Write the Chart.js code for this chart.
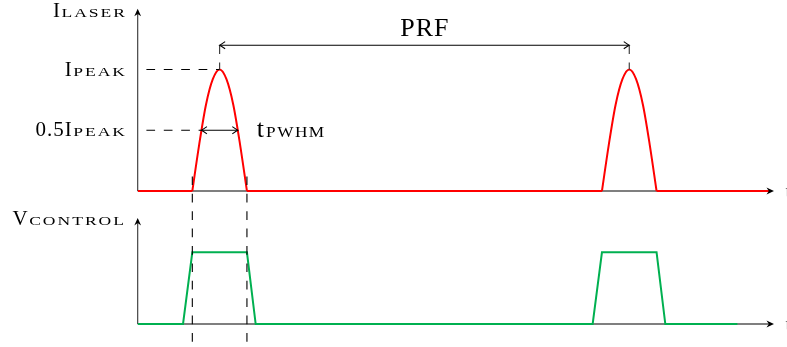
<!DOCTYPE html>
<html>
<head>
<meta charset="utf-8">
<script src="https://cdn.jsdelivr.net/npm/chart.js@4.4.1/dist/chart.umd.min.js"></script>
<style>
  html, body { margin: 0; padding: 0; background: #fff; }
  canvas { display: block; }
</style>
</head>
<body>
<canvas id="pulse" width="787" height="347"></canvas>
<script>
// time in pulse widths, amplitudes normalised to 1
const timeMax = 11.65;

// laser current: the two pulses (same shape)
const pulse1X = [1, 1.125, 1.25, 1.375, 1.5, 1.625, 1.75, 1.875, 2];
const pulse2X = [8.5, 8.625, 8.75, 8.875, 9, 9.125, 9.25, 9.375, 9.5];
const pulseY  = [0, 0.38, 0.71, 0.92, 1, 0.92, 0.71, 0.38, 0];
// laser current off between pulses
const laserOff = [[0, 1], [2, 8.5], [9.5, 11.58]];

// control voltage
const ctrlX = [0, 0.83, 1, 2, 2.16, 8.33, 8.5, 9.5, 9.66, 10.98];
const ctrlY = [0, 0, 1, 1, 0, 0, 1, 1, 0, 0];

// levels marked on the laser axis
const levelValues = [1, 0.5];
const levelMain = ['I', '0.5I'];
const levelSub = ['PEAK', 'PEAK'];

// timing marks
const gateEdges = [1, 2];
const prfFrom = 1.5, prfTo = 9, prfLevel = 1.2;
const fwhmFrom = 1.167, fwhmTo = 1.833;

// panel geometry (pixels)
const areaTop = 9, areaBottom = 347;
const laserBase = 191, laserUnit = 121.5;
const ctrlBase = 324, ctrlUnit = 71.7;
const laserAxisTop = 1.5, ctrlAxisTop = 1.48;

const SERIF = '"Liberation Serif", "Times New Roman", serif';

const toPts = (xs, ys) => xs.map((x, i) => ({ x, y: ys[i] }));

const pulsePts = [...toPts(pulse1X, pulseY), { x: 5, y: null }, ...toPts(pulse2X, pulseY)];
const offPts = [];
laserOff.forEach((seg, i) => {
    if (i) offPts.push({ x: (laserOff[i - 1][1] + seg[0]) / 2, y: null });
    offPts.push({ x: seg[0], y: 0 }, { x: seg[1], y: 0 });
});

function stealth(ctx, x, y, ang) {
    ctx.save();
    ctx.translate(x, y);
    ctx.rotate(ang);
    ctx.beginPath();
    ctx.moveTo(0, 0);
    ctx.lineTo(-7.5, -3.4);
    ctx.lineTo(-5.2, 0);
    ctx.lineTo(-7.5, 3.4);
    ctx.closePath();
    ctx.fill();
    ctx.restore();
}

function openHead(ctx, x, y, ang) {
    ctx.save();
    ctx.translate(x, y);
    ctx.rotate(ang);
    ctx.beginPath();
    ctx.moveTo(-5.5, -3.6);
    ctx.quadraticCurveTo(-1.5, -0.8, 0, 0);
    ctx.quadraticCurveTo(-1.5, 0.8, -5.5, 3.6);
    ctx.stroke();
    ctx.restore();
}

function line(ctx, x1, y1, x2, y2, dash, offset) {
    ctx.save();
    if (dash) { ctx.setLineDash(dash); ctx.lineDashOffset = offset || 0; }
    ctx.beginPath();
    ctx.moveTo(x1, y1);
    ctx.lineTo(x2, y2);
    ctx.stroke();
    ctx.restore();
}

// draw a string letter by letter, with horizontal stretch and extra spacing
function spaced(ctx, str, size, stretch, spacing) {
    ctx.font = size + 'px ' + SERIF;
    const ws = [...str].map(c => ctx.measureText(c).width * stretch);
    const w = ws.reduce((a, b) => a + b, 0) + spacing * (ws.length - 1);
    return { w, draw(x, y) {
        ctx.font = size + 'px ' + SERIF;
        let cx = x;
        [...str].forEach((c, i) => {
            ctx.save();
            ctx.translate(cx, y);
            ctx.scale(stretch, 1);
            ctx.fillText(c, 0, 0);
            ctx.restore();
            cx += ws[i] + spacing;
        });
    } };
}

// "main" followed by small caps letters
function scText(ctx, main, sc, x, y, o) {
    const m = spaced(ctx, main, o.mainSize, 1, o.mainSpacing);
    const s = spaced(ctx, sc, o.scSize, o.stretch, o.spacing);
    const total = m.w + o.gap + s.w;
    const sx = o.align === 'right' ? x - total : x;
    ctx.textAlign = 'left';
    ctx.textBaseline = 'alphabetic';
    m.draw(sx, y);
    s.draw(sx + m.w + o.gap, y);
}

const labelStyle = { mainSize: 21, mainSpacing: 1, scSize: 13, stretch: 1.35, spacing: 2, gap: 1.5, align: 'right' };

const sketch = {
    id: 'sketch',
    beforeDatasetsDraw(chart) {
        const { ctx, scales: { x, yLaser, yCtrl } } = chart;
        ctx.save();
        ctx.lineWidth = 1.1;
        ctx.strokeStyle = '#000';
        line(ctx, x.getPixelForValue(0), yLaser.getPixelForValue(0), x.getPixelForValue(timeMax) - 3, yLaser.getPixelForValue(0));
        line(ctx, x.getPixelForValue(0), yCtrl.getPixelForValue(0), x.getPixelForValue(timeMax) - 3, yCtrl.getPixelForValue(0));
        ctx.strokeStyle = '#333';
        line(ctx, x.getPixelForValue(0), yLaser.getPixelForValue(0), x.getPixelForValue(0), yLaser.getPixelForValue(laserAxisTop) + 3);
        line(ctx, x.getPixelForValue(0), yCtrl.getPixelForValue(0), x.getPixelForValue(0), yCtrl.getPixelForValue(ctrlAxisTop) + 3);
        ctx.restore();
    },
    afterDatasetsDraw(chart) {
        const { ctx, scales: { x, yLaser, yCtrl } } = chart;
        const x0 = x.getPixelForValue(0);
        ctx.save();
        ctx.fillStyle = '#000';
        ctx.strokeStyle = '#000';
        ctx.lineWidth = 1.1;

        // axis arrowheads
        stealth(ctx, x.getPixelForValue(timeMax), yLaser.getPixelForValue(0), 0);
        stealth(ctx, x.getPixelForValue(timeMax), yCtrl.getPixelForValue(0), 0);
        stealth(ctx, x0, yLaser.getPixelForValue(laserAxisTop), -Math.PI / 2);
        stealth(ctx, x0, yCtrl.getPixelForValue(ctrlAxisTop), -Math.PI / 2);

        const dash = [8.7, 8.7];
        // level guides
        line(ctx, x0, yLaser.getPixelForValue(levelValues[0]), x.getPixelForValue(prfFrom), yLaser.getPixelForValue(levelValues[0]), dash, 8.7);
        line(ctx, x0, yLaser.getPixelForValue(levelValues[1]), x.getPixelForValue(fwhmFrom), yLaser.getPixelForValue(levelValues[1]), dash, 8.7);

        // gate edges through both panels
        gateEdges.forEach(t => {
            const px = x.getPixelForValue(t);
            line(ctx, px, yLaser.getPixelForValue(0.12), px, areaBottom, dash, 0);
        });

        // PRF
        const prfY = yLaser.getPixelForValue(prfLevel);
        const pa = x.getPixelForValue(prfFrom), pb = x.getPixelForValue(prfTo);
        ctx.strokeStyle = '#333';
        line(ctx, pa, prfY, pa, yLaser.getPixelForValue(1), dash, 0);
        line(ctx, pb, prfY, pb, yLaser.getPixelForValue(1), dash, 0);
        ctx.strokeStyle = '#000';
        line(ctx, pa + 1, prfY, pb - 1, prfY);
        openHead(ctx, pa, prfY, Math.PI);
        openHead(ctx, pb, prfY, 0);
        const prf = spaced(ctx, 'PRF', 26, 1, 1);
        ctx.textAlign = 'left';
        ctx.textBaseline = 'alphabetic';
        prf.draw((pa + pb) / 2 - prf.w / 2, prfY - 9);

        // FWHM
        const fy = yLaser.getPixelForValue(0.5);
        const fa = x.getPixelForValue(fwhmFrom), fb = x.getPixelForValue(fwhmTo);
        line(ctx, fa + 1, fy, fb - 1, fy);
        openHead(ctx, fa, fy, Math.PI);
        openHead(ctx, fb, fy, 0);
        scText(ctx, 't', 'PWHM', fb + 19, fy + 7, { mainSize: 26, mainSpacing: 0, scSize: 15, stretch: 1.15, spacing: 1.5, gap: 2, align: 'left' });

        // axis titles and level labels
        scText(ctx, 'I', 'LASER', 125, yLaser.getPixelForValue(laserAxisTop) + 8, labelStyle);
        scText(ctx, 'V', 'CONTROL', 124, yCtrl.getPixelForValue(ctrlAxisTop) + 7, labelStyle);
        levelValues.forEach((v, i) => {
            scText(ctx, levelMain[i], levelSub[i], 125, yLaser.getPixelForValue(v) + 6, labelStyle);
        });

        // time labels, cut by the page edge
        ctx.font = '20px ' + SERIF;
        ctx.textAlign = 'left';
        ctx.fillStyle = '#666';
        ctx.fillText('t', 785.5, yLaser.getPixelForValue(0) + 7);
        ctx.fillText('t', 785.5, yCtrl.getPixelForValue(0) + 7);
        ctx.restore();
    }
};

new Chart(document.getElementById('pulse'), {
    type: 'line',
    data: {
        datasets: [
            {
                label: 'I laser (off)',
                data: offPts,
                yAxisID: 'yLaser',
                borderColor: '#ff0000',
                borderWidth: 2,
                pointRadius: 0,
                tension: 0,
                spanGaps: false
            },
            {
                label: 'I laser',
                data: pulsePts,
                yAxisID: 'yLaser',
                borderColor: '#ff0000',
                borderWidth: 2,
                pointRadius: 0,
                cubicInterpolationMode: 'monotone',
                spanGaps: false
            },
            {
                label: 'V control',
                data: toPts(ctrlX, ctrlY),
                yAxisID: 'yCtrl',
                borderColor: '#00b050',
                borderWidth: 2,
                pointRadius: 0,
                tension: 0
            }
        ]
    },
    options: {
        responsive: false,
        animation: false,
        devicePixelRatio: 1,
        layout: { padding: { left: 137.7, right: 13, top: areaTop, bottom: 0 } },
        plugins: { legend: { display: false }, tooltip: { enabled: false } },
        scales: {
            x: { type: 'linear', display: false, min: 0, max: timeMax },
            yLaser: {
                type: 'linear', display: false,
                min: -(areaBottom - laserBase) / laserUnit,
                max: (laserBase - areaTop) / laserUnit
            },
            yCtrl: {
                type: 'linear', display: false,
                min: -(areaBottom - ctrlBase) / ctrlUnit,
                max: (ctrlBase - areaTop) / ctrlUnit
            }
        }
    },
    plugins: [sketch]
});
</script>
</body>
</html>
